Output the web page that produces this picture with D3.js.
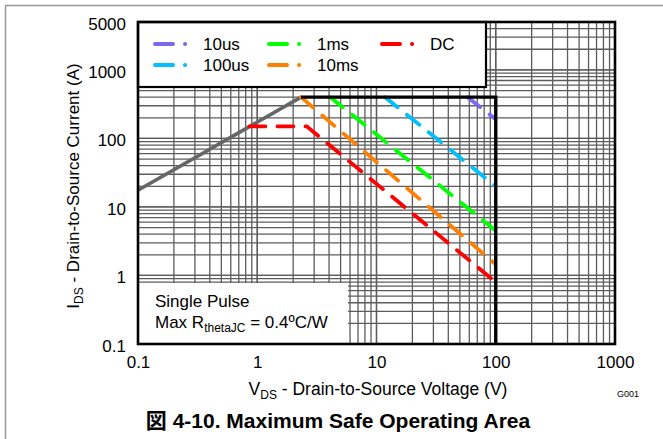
<!DOCTYPE html>
<html><head><meta charset="utf-8">
<script src="https://cdn.jsdelivr.net/npm/d3@7"></script>
<style>
body{margin:0;background:#fff;}
svg{display:block;font-family:"Liberation Sans",Arial,Helvetica,sans-serif;}
</style></head>
<body>
<svg id="c" width="663" height="439"></svg>
<script>
// ---- data ----
const xTickValues = [0.1, 1, 10, 100, 1000];
const xTickLabels = ["0.1", "1", "10", "100", "1000"];
const yTickValues = [0.1, 1, 10, 100, 1000, 5000];
const yTickLabels = ["0.1", "1", "10", "100", "1000", "5000"];

const seriesNames = ["10us", "100us", "1ms", "10ms", "DC"];
const seriesColors = ["#7b68ee", "#00bfff", "#00ff00", "#ff7f00", "#ff0000"];
const v10us = [58, 100];     const i10us = [400, 190];
const v100us = [11.8, 100];  const i100us = [400, 20];
const v1ms = [4.1, 100];     const i1ms = [400, 4.5];
const v10ms = [2.33, 100];   const i10ms = [400, 1.45];
const vDC = [0.86, 2.6, 100]; const iDC = [150, 150, 0.8];

const rdsV = [0.1, 2.33];    const rdsI = [17.5, 400];
const limV = [2.33, 100, 100]; const limI = [400, 400, 0.1];

// ---- layout ----
const svg = d3.select("#c");
const L = 138, R = 615, T = 22, B = 344;
const x = d3.scaleLog().domain([0.1, 1000]).range([L, R]);
const y = d3.scaleLog().domain([0.1, 5000]).range([B, T]);

// outer frame
svg.append("rect").attr("x", 5.5).attr("y", 5.5).attr("width", 700).attr("height", 500)
  .attr("fill", "none").attr("stroke", "#999").attr("stroke-width", 1.5);

// grid
const g = svg.append("g");
const xMinor = [], yMinor = [];
for (let d = 0.1; d < 999; d *= 10) for (let k = 1; k <= 10; k++) xMinor.push(d * k);
for (let d = 0.1; d < 4999; d *= 10) for (let k = 1; k <= 10; k++) { const v = d * k; if (v <= 5000.01) yMinor.push(v); }
g.selectAll("line.vx").data(xMinor).join("line")
  .attr("x1", d => x(d)).attr("x2", d => x(d)).attr("y1", T).attr("y2", B)
  .attr("stroke", "#5c5c5c").attr("stroke-width", 1.3);
g.selectAll("line.hy").data(yMinor).join("line")
  .attr("x1", L).attr("x2", R).attr("y1", d => y(d)).attr("y2", d => y(d))
  .attr("stroke", "#5c5c5c").attr("stroke-width", 1.3);

// white boxes
svg.append("rect").attr("x", L).attr("y", 283).attr("width", 210).attr("height", B - 283).attr("fill", "#fff");
svg.append("rect").attr("x", L).attr("y", T).attr("width", 348).attr("height", 65)
  .attr("fill", "#fff").attr("stroke", "#000").attr("stroke-width", 2.2);

// curves
const line = d3.line().x(d => x(d[0])).y(d => y(d[1]));
const zipV = (a, b) => a.map((v, i) => [v, b[i]]);
const seriesData = [zipV(v10us, i10us), zipV(v100us, i100us), zipV(v1ms, i1ms), zipV(v10ms, i10ms), zipV(vDC, iDC)];

svg.append("path").attr("d", line(zipV(rdsV, rdsI))).attr("fill", "none")
  .attr("stroke", "#666").attr("stroke-width", 3.6);

const clip = svg.append("clipPath").attr("id", "pc").append("rect")
  .attr("x", L).attr("y", T).attr("width", x(100) - L).attr("height", B - T);
seriesData.forEach((s, i) => {
  svg.append("path").attr("d", line(s)).attr("fill", "none")
    .attr("clip-path", "url(#pc)")
    .attr("stroke", seriesColors[i]).attr("stroke-width", 3.8)
    .attr("stroke-linecap", "round").attr("stroke-dasharray", "16 12");
});

svg.append("path").attr("d", line(zipV(limV, limI))).attr("fill", "none")
  .attr("stroke", "#000").attr("stroke-width", 3.4);

// axes frame
svg.append("rect").attr("x", L).attr("y", T).attr("width", R - L).attr("height", B - T)
  .attr("fill", "none").attr("stroke", "#000").attr("stroke-width", 2.6);

// legend
const legPos = [[153, 44], [153, 65], [267, 44], [267, 65], [380, 44]];
seriesNames.forEach((n, i) => {
  const [lx, ly] = legPos[i];
  svg.append("line").attr("x1", lx + 2).attr("x2", lx + 36).attr("y1", ly).attr("y2", ly)
    .attr("stroke", seriesColors[i]).attr("stroke-width", 4).attr("stroke-linecap", "round")
    .attr("stroke-dasharray", "18 12 0.1 20");
  svg.append("text").attr("x", lx + 50).attr("y", ly + 6).attr("font-size", 17).text(n);
});

// tick labels
const xAxis = d3.axisBottom(x).tickValues(xTickValues).tickFormat((d, i) => xTickLabels[i]).tickSize(0).tickPadding(12);
const xa = svg.append("g").attr("transform", `translate(0,${B})`).call(xAxis);
xa.select(".domain").remove();
xa.selectAll("text").attr("font-size", 17).attr("font-family", "Liberation Sans, Arial, sans-serif").attr("fill", "#000");
const yAxis = d3.axisLeft(y).tickValues(yTickValues).tickFormat((d, i) => yTickLabels[i]).tickSize(0).tickPadding(12);
const ya = svg.append("g").attr("transform", `translate(${L},0)`).call(yAxis);
ya.select(".domain").remove();
ya.selectAll("text").attr("font-size", 17).attr("font-family", "Liberation Sans, Arial, sans-serif").attr("fill", "#000").attr("dy", "0.42em");

// annotation
svg.append("text").attr("x", 155).attr("y", 307).attr("font-size", 17).text("Single Pulse");
const t2 = svg.append("text").attr("x", 155).attr("y", 328).attr("font-size", 17);
t2.append("tspan").text("Max R");
t2.append("tspan").attr("font-size", 12).attr("dy", 4).text("thetaJC");
t2.append("tspan").attr("dy", -4).text(" = 0.4ºC/W");

// axis titles
const xt = svg.append("text").attr("x", 378).attr("y", 395).attr("text-anchor", "middle").attr("font-size", 17.5);
xt.append("tspan").text("V");
xt.append("tspan").attr("font-size", 12).attr("dy", 4).text("DS");
xt.append("tspan").attr("dy", -4).text(" - Drain-to-Source Voltage (V)");

const yt = svg.append("text").attr("transform", "translate(79,186) rotate(-90)").attr("text-anchor", "middle").attr("font-size", 17);
yt.append("tspan").text("I");
yt.append("tspan").attr("font-size", 12).attr("dy", 4).text("DS");
yt.append("tspan").attr("dy", -4).text(" - Drain-to-Source Current (A)");

svg.append("text").attr("x", 617).attr("y", 397).attr("font-size", 9).text("G001");

svg.append("text").attr("x", 338).attr("y", 428).attr("text-anchor", "middle")
  .attr("font-size", 21).attr("font-weight", "bold")
  .attr("font-family", "Liberation Sans, 'Noto Sans CJK JP', sans-serif")
  .text("図 4-10. Maximum Safe Operating Area");
</script>
</body></html>
